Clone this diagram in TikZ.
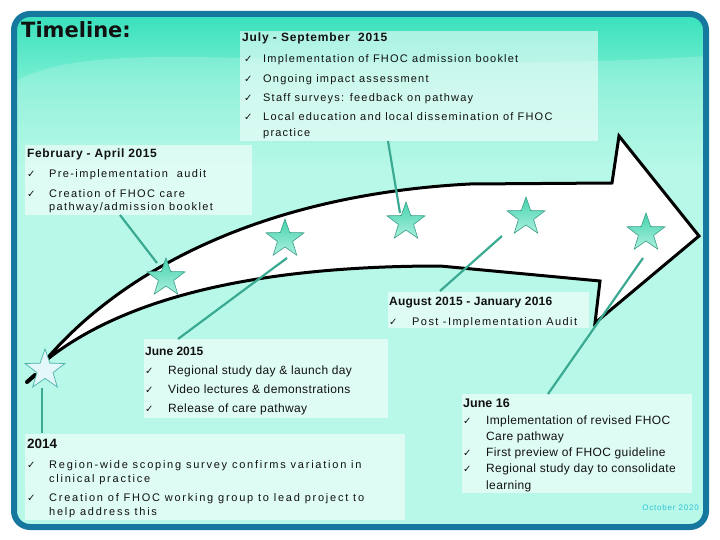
\documentclass[tikz,border=0pt]{standalone}
\usepackage{fontspec}
\setmainfont{Liberation Sans}
\newfontfamily\ckfont{DejaVu Sans}
\newfontfamily\hdfont{DejaVu Sans}
\usetikzlibrary{shapes.geometric}
\definecolor{framec}{HTML}{16789E}
\definecolor{bgtop}{HTML}{38E1BC}
\definecolor{bgmid}{HTML}{7CEFD3}
\definecolor{bgbot}{HTML}{A8F7E3}
\definecolor{txt}{HTML}{111111}
\definecolor{connc}{HTML}{3AAA92}
\definecolor{stardark}{HTML}{45D3AE}
\definecolor{starlight}{HTML}{ADF1DE}
\definecolor{starline}{HTML}{3A9C88}
\definecolor{paleStar}{HTML}{E4F8FB}
\definecolor{paleLine}{HTML}{4AB0A8}
\definecolor{octc}{HTML}{30C4D8}
\pgfdeclareverticalshading{bgsh}{100bp}{color(0bp)=(bgbot); color(25bp)=(bgbot); color(60bp)=(bgbot); color(68bp)=(bgmid); color(75bp)=(bgtop); color(100bp)=(bgtop)}
\newcommand\chk{{\ckfont\fontsize{10}{10}\selectfont ✓}}
\begin{document}
\begin{tikzpicture}[x=1pt,y=-1pt,
  tbox/.style={fill=white, fill opacity=0.55, draw=none, inner sep=0pt, anchor=north west},
  ln/.style={anchor=base west, inner sep=0pt, text=txt},
  ttlA/.style={ln, font=\bfseries\fontsize{12}{14}\selectfont\addfontfeatures{LetterSpace=7}},
  ttlB/.style={ln, font=\bfseries\fontsize{12}{14}\selectfont\addfontfeatures{LetterSpace=5}},
  ttlC/.style={ln, font=\bfseries\fontsize{12}{14}\selectfont},
  ttlD/.style={ln, font=\bfseries\fontsize{13.5}{15}\selectfont},
  ttlE/.style={ln, font=\bfseries\fontsize{12}{14}\selectfont\addfontfeatures{LetterSpace=2}},
  ttlF/.style={ln, font=\bfseries\fontsize{12.5}{14}\selectfont},
  bodyJul/.style={ln, font=\fontsize{11}{13}\selectfont\addfontfeatures{LetterSpace=11}},
  bodyFeb/.style={ln, font=\fontsize{11}{13}\selectfont\addfontfeatures{LetterSpace=12.5}},
  bodyOld/.style={ln, font=\fontsize{11}{13}\selectfont\addfontfeatures{LetterSpace=16}},
  bodyAug/.style={ln, font=\fontsize{11}{13}\selectfont\addfontfeatures{LetterSpace=13}},
  bodyJun/.style={ln, font=\fontsize{12}{14}\selectfont\addfontfeatures{LetterSpace=3}},
  ck/.style={anchor=base west, inner sep=0pt, text=txt},
  conn/.style={draw=connc, line width=2.2pt},
  tstar/.style={star, star points=5, star point ratio=2.5, minimum size=40pt, inner sep=0pt,
     draw=starline, line width=0.6pt, top color=stardark, bottom color=starlight},
  pstar/.style={star, star points=5, star point ratio=2.5, minimum size=42pt, inner sep=0pt,
     draw=paleLine, line width=0.7pt, fill=paleStar},
  arrowshape/.style={draw=black, line width=3pt, fill=white, line join=miter}
]
\useasboundingbox (0,0) rectangle (720,540);
\fill[white] (0,0) rectangle (720,540);
% background panel
\shade[shading=bgsh, rounded corners=16pt] (14,14) rectangle (706,527);
\begin{scope}
  \clip[rounded corners=16pt] (14,14) rectangle (706,527);
  \fill[white, opacity=0.18] (14,82) .. controls (50,62) and (100,56) .. (200,57) .. controls (400,62) and (560,66) .. (706,56) -- (706,527) -- (14,527) -- cycle;
\end{scope}
\draw[framec, line width=6pt, rounded corners=16pt] (14,14) rectangle (706,527);

% title
\node[anchor=base west, inner sep=0pt, text=txt, font=\hdfont\bfseries\fontsize{21}{24}\selectfont] (title) at (21,38) {Timeline:};

% arrow
\draw[arrowshape] (44,362) .. controls (120,272) and (260,195) .. (470,184) -- (612,183) -- (619,136) -- (699,236) -- (595,323) -- (600,281) -- (440,266) .. controls (250,266) and (120,300) .. (44,362) -- cycle;
\draw[black, line width=4pt, line cap=round] (27,382) -- (35,375);

% boxes
\node[tbox, minimum width=358pt, minimum height=110pt] (bJul) at (240,31) {};
\node[tbox, minimum width=227pt, minimum height=70pt] (bFeb) at (25,145) {};
\node[tbox, minimum width=201pt, minimum height=36pt] (bAug) at (388,292) {};
\node[tbox, minimum width=244pt, minimum height=79pt] (bJun) at (144,339) {};
\node[tbox, minimum width=380pt, minimum height=86pt] (bOld) at (25,434) {};
\node[tbox, minimum width=230pt, minimum height=99pt] (bJ16) at (462,394) {};

% July box text
\node[ttlA] (j0) at (242,42) {July - September\ \ 2015};
\node[ck] (j1c) at (244,63) {\chk};
\node[bodyJul] (j1) at (263,63) {Implementation of FHOC admission booklet};
\node[ck] (j2c) at (244,83) {\chk};
\node[bodyJul] (j2) at (263,83) {Ongoing impact assessment};
\node[ck] (j3c) at (244,102) {\chk};
\node[bodyJul] (j3) at (263,102) {Staff surveys: feedback on pathway};
\node[ck] (j4c) at (244,121) {\chk};
\node[bodyJul] (j4) at (263,121) {Local education and local dissemination of FHOC};
\node[bodyJul] (j5) at (263,137) {practice};

% Feb box text
\node[ttlB] (f0) at (27,158) {February - April 2015};
\node[ck] (f1c) at (27,178) {\chk};
\node[bodyFeb] (f1) at (49,178) {Pre-implementation\ \ audit};
\node[ck] (f2c) at (27,197) {\chk};
\node[bodyFeb] (f2) at (49,197) {Creation of FHOC care};
\node[bodyFeb] (f3) at (49,211) {pathway/admission booklet};

% August box text
\node[ttlE] (a0) at (389,305) {August 2015 - January 2016};
\node[ck] (a1c) at (389,325) {\chk};
\node[bodyAug] (a1) at (412,325) {Post -Implementation Audit};

% June 2015 box text
\node[ttlC] (u0) at (145,355) {June 2015};
\node[ck] (u1c) at (145,374) {\chk};
\node[bodyJun] (u1) at (168,374) {Regional study day \& launch day};
\node[ck] (u2c) at (145,393) {\chk};
\node[bodyJun] (u2) at (168,393) {Video lectures \& demonstrations};
\node[ck] (u3c) at (145,412) {\chk};
\node[bodyJun] (u3) at (168,412) {Release of care pathway};

% 2014 box text
\node[ttlD] (o0) at (27,448) {2014};
\node[ck] (o1c) at (27,468) {\chk};
\node[bodyOld] (o1) at (49,468) {Region-wide scoping survey confirms variation in};
\node[bodyOld] (o2) at (49,482) {clinical practice};
\node[ck] (o3c) at (27,501) {\chk};
\node[bodyOld] (o3) at (49,501) {Creation of FHOC working group to lead project to};
\node[bodyOld] (o4) at (49,515) {help address this};

% June 16 box text
\node[ttlF] (k0) at (463,407) {June 16};
\node[ck] (k1c) at (463,424) {\chk};
\node[bodyJun] (k1) at (486,424) {Implementation of revised FHOC};
\node[bodyJun] (k2) at (486,440) {Care pathway};
\node[ck] (k3c) at (463,456) {\chk};
\node[bodyJun] (k3) at (486,456) {First preview of FHOC guideline};
\node[ck] (k4c) at (463,472) {\chk};
\node[bodyJun] (k4) at (486,472) {Regional study day to consolidate};
\node[bodyJun] (k5) at (486,489) {learning};

% footer
\node[anchor=base east, inner sep=0pt, text=octc, font=\fontsize{8}{9}\selectfont\addfontfeatures{LetterSpace=10}] (oct) at (699,510) {October 2020};

% connector end points
\coordinate (p1) at (42,433);  \coordinate (q1) at (42,388);
\coordinate (p2) at (120,215); \coordinate (q2) at (157,263);
\coordinate (p3) at (178,339); \coordinate (q3) at (287,258);
\coordinate (p4) at (388,141); \coordinate (q4) at (400,213);
\coordinate (p5) at (440,291); \coordinate (q5) at (502,236);
\coordinate (p6) at (548,394); \coordinate (q6) at (643,258);
\draw[conn] (p1) -- (q1);
\draw[conn] (p2) -- (q2);
\draw[conn] (p3) -- (q3);
\draw[conn] (p4) -- (q4);
\draw[conn] (p5) -- (q5);
\draw[conn] (p6) -- (q6);

% stars
\node[pstar] (s1) at (45,370) {};
\node[tstar] (s2) at (166,278) {};
\node[tstar] (s3) at (285,239) {};
\node[tstar] (s4) at (406,222) {};
\node[tstar] (s5) at (526,217) {};
\node[tstar] (s6) at (646,233) {};
\end{tikzpicture}
\end{document}
